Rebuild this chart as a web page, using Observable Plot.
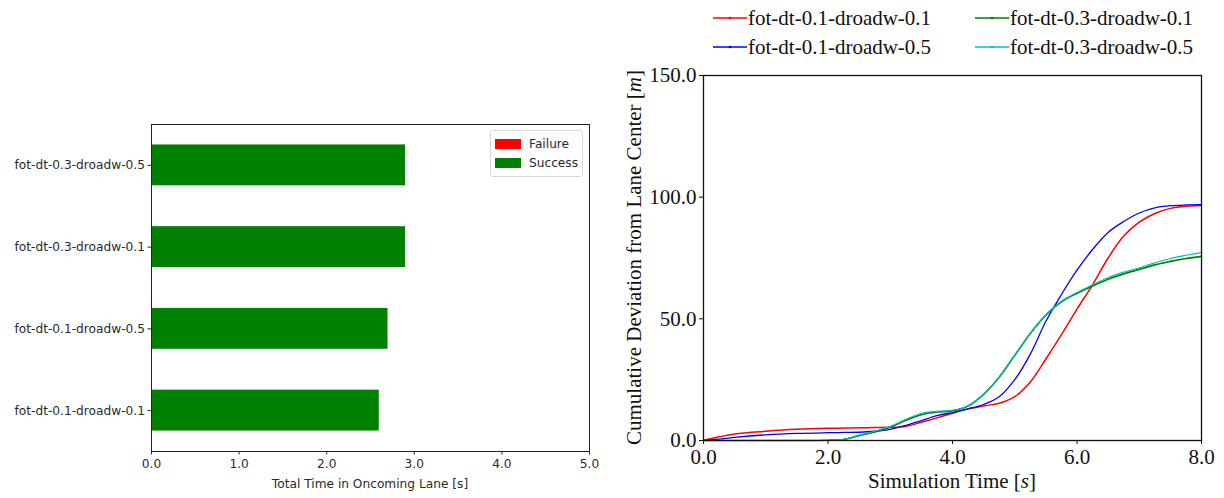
<!DOCTYPE html>
<html><head><meta charset="utf-8">
<script src="https://cdn.jsdelivr.net/npm/d3@7"></script>
<script src="https://cdn.jsdelivr.net/npm/@observablehq/plot@0.6"></script>
<style>
body{margin:0;background:#fff;}
#wrap{position:relative;width:1224px;height:498px;overflow:hidden;background:#fff;}
#left,#right{position:absolute;top:0;}
#left{left:0;} #right{left:600px;}
.lg{position:absolute;display:flex;align-items:center;white-space:nowrap;}
</style></head><body>
<div id="wrap"><div id="left"></div><div id="right"></div><div id="legL"></div><div id="legR"></div></div>
<script>
// ---------- Left chart data ----------
const barCategories = ["fot-dt-0.3-droadw-0.5", "fot-dt-0.3-droadw-0.1", "fot-dt-0.1-droadw-0.5", "fot-dt-0.1-droadw-0.1"];
const barValues = [2.9, 2.9, 2.7, 2.6];
const barStatus = ["Success", "Success", "Success", "Success"];
const statusLabels = ["Failure", "Success"];
const statusColors = ["#ff0000", "#008000"];
const barTicks = [0, 1, 2, 3, 4, 5];
const barXLabel = "Total Time in Oncoming Lane [s]";

// ---------- Right chart data ----------
const seriesNames = ["fot-dt-0.1-droadw-0.1", "fot-dt-0.1-droadw-0.5", "fot-dt-0.3-droadw-0.1", "fot-dt-0.3-droadw-0.5"];
const seriesColors = ["#ff0000", "#0000ff", "#008000", "#00bfbf"];
const time = [0, 0.25, 0.5, 1, 1.5, 2, 2.25, 2.5, 2.75, 3, 3.25, 3.5, 3.75, 4, 4.25, 4.5, 4.75, 5, 5.25, 5.5, 5.75, 6, 6.25, 6.5, 6.75, 7, 7.25, 7.5, 7.75, 8];
const devA = [0, 1.5, 2.7, 3.8, 4.6, 5.0, 5.1, 5.2, 5.3, 5.4, 5.8, 7.5, 9.3, 11.2, 13.0, 14.2, 15.3, 18.0, 24.0, 33.5, 43.5, 54.0, 64.0, 75.0, 84.0, 89.7, 93.3, 95.4, 96.3, 96.6];
const devB = [0, 0.6, 1.3, 2.3, 2.9, 3.2, 3.3, 3.4, 3.8, 4.6, 6.2, 8.2, 10.2, 11.5, 13.0, 14.8, 18.0, 25.0, 35.5, 49.0, 60.0, 70.0, 78.5, 85.5, 90.0, 93.5, 95.6, 96.5, 96.8, 96.9];
const devC = [0, 0, 0, 0, 0, 0.1, 0.4, 2.0, 3.5, 5.5, 8.3, 10.6, 11.7, 12.2, 14.2, 19.0, 26.0, 35.0, 44.0, 51.5, 57.0, 60.5, 63.5, 66.3, 68.5, 70.3, 72.2, 73.6, 74.8, 75.7];
const devD = [0, 0, 0, 0, 0, 0.1, 0.5, 2.2, 3.8, 5.8, 8.7, 11.2, 12.0, 12.4, 14.3, 19.0, 26.0, 35.0, 44.0, 51.5, 57.2, 60.8, 64.0, 67.0, 69.2, 71.0, 73.0, 74.8, 76.1, 77.2];
const seriesValues = [devA, devB, devC, devD];
const timeTicks = [0, 2, 4, 6, 8];
const devTicks = [0, 50, 100, 150];

// ---------- Left chart ----------
const FS_L = "12.2px";
const barData = barCategories.map((c, i) => ({name: c, value: barValues[i], status: barStatus[i]}));
const left = Plot.plot({
  width: 600, height: 498,
  marginLeft: 151, marginRight: 11, marginTop: 124, marginBottom: 47,
  style: {fontFamily: "DejaVu Sans", fontSize: FS_L, color: "#2a2a2a", background: "transparent"},
  x: {domain: [0, 5], ticks: barTicks, tickFormat: d => d.toFixed(1), tickSize: 3.5, tickPadding: 4, label: null},
  y: {domain: barCategories, paddingInner: 0.5, paddingOuter: 0.25, round: false, tickSize: 3.5, tickPadding: 3, label: null},
  color: {domain: statusLabels, range: statusColors},
  marks: [
    Plot.barX(barData, {x: "value", y: "name", fill: "status"}),
    Plot.frame({stroke: "#222", strokeWidth: 1})
  ]
});
d3.select(left).append("text")
  .attr("x", (151 + 589) / 2).attr("y", 484)
  .attr("text-anchor", "middle").attr("dominant-baseline", "middle")
  .attr("font-family", "DejaVu Sans").attr("font-size", FS_L).attr("fill", "#2a2a2a")
  .text(barXLabel);
document.getElementById("left").appendChild(left);

// left legend
const legL = d3.select("#legL").append("div")
  .style("position", "absolute").style("left", "490px").style("top", "130px")
  .style("width", "93px").style("height", "47px").style("border", "1px solid #d6d6d6")
  .style("border-radius", "3px").style("background", "#fff").style("box-sizing", "border-box");
statusLabels.forEach((s, i) => {
  const row = legL.append("div").attr("class", "lg")
    .style("left", "4px").style("top", (4 + i * 19) + "px").style("height", "17px");
  row.append("div").style("width", "26px").style("height", "10px").style("background", statusColors[i]);
  row.append("span").style("margin-left", "8px")
    .style("font-family", "DejaVu Sans").style("font-size", FS_L).style("color", "#2a2a2a").text(s);
});

// ---------- Right chart ----------
const lineData = [];
seriesNames.forEach((s, k) => time.forEach((t, i) => lineData.push({series: s, t, v: seriesValues[k][i]})));
const widths = [1.5, 1.3, 1.7, 1.1];
const right = Plot.plot({
  width: 624, height: 498,
  marginLeft: 103, marginRight: 23, marginTop: 75, marginBottom: 58,
  style: {fontFamily: "Liberation Serif", fontSize: "21px", color: "#111", background: "transparent"},
  x: {domain: [0, 8], ticks: timeTicks, tickFormat: d => d.toFixed(1), tickSize: 4, tickPadding: 5, label: null},
  y: {domain: [0, 150], ticks: devTicks, tickFormat: d => d.toFixed(1), tickSize: 4, tickPadding: 3, label: null},
  color: {domain: seriesNames, range: seriesColors},
  marks: [
    ...seriesNames.map((s, k) => Plot.line(lineData.filter(d => d.series === s),
      {x: "t", y: "v", stroke: "series", strokeWidth: widths[k], curve: "catmull-rom"})),
    Plot.frame({stroke: "#111", strokeWidth: 1.3})
  ]
});
const rs = d3.select(right);
const yl = rs.append("text")
  .attr("transform", `translate(36,${(75 + 440) / 2}) rotate(-90)`)
  .attr("text-anchor", "middle").attr("dominant-baseline", "middle")
  .attr("font-family", "Liberation Serif").attr("font-size", "21px").attr("fill", "#111");
yl.append("tspan").text("Cumulative Deviation from Lane Center [");
yl.append("tspan").attr("font-style", "italic").text("m");
yl.append("tspan").text("]");
const xl = rs.append("text")
  .attr("x", 103 + (624 - 103 - 23) / 2).attr("y", 483)
  .attr("text-anchor", "middle").attr("dominant-baseline", "middle")
  .attr("font-family", "Liberation Serif").attr("font-size", "21px").attr("fill", "#111");
xl.append("tspan").text("Simulation Time [");
xl.append("tspan").attr("font-style", "italic").text("s");
xl.append("tspan").text("]");
document.getElementById("right").appendChild(right);

// right legend (two columns, column-major)
const legR = d3.select("#legR");
seriesNames.forEach((s, i) => {
  const col = Math.floor(i / 2), row = i % 2;
  const item = legR.append("div").attr("class", "lg")
    .style("left", (713 + col * 262) + "px").style("top", (6 + row * 29) + "px").style("height", "24px");
  const sw = item.append("svg").attr("width", 34).attr("height", 10);
  sw.append("line").attr("x1", 0).attr("x2", 34).attr("y1", 5).attr("y2", 5)
    .attr("stroke", seriesColors[i]).attr("stroke-width", 1.5);
  sw.append("circle").attr("cx", 17).attr("cy", 5).attr("r", 1.3).attr("fill", seriesColors[i]);
  item.append("span").style("margin-left", "1px")
    .style("font-family", "Liberation Serif").style("font-size", "21px").style("color", "#111").text(s);
});
</script>
</body></html>
